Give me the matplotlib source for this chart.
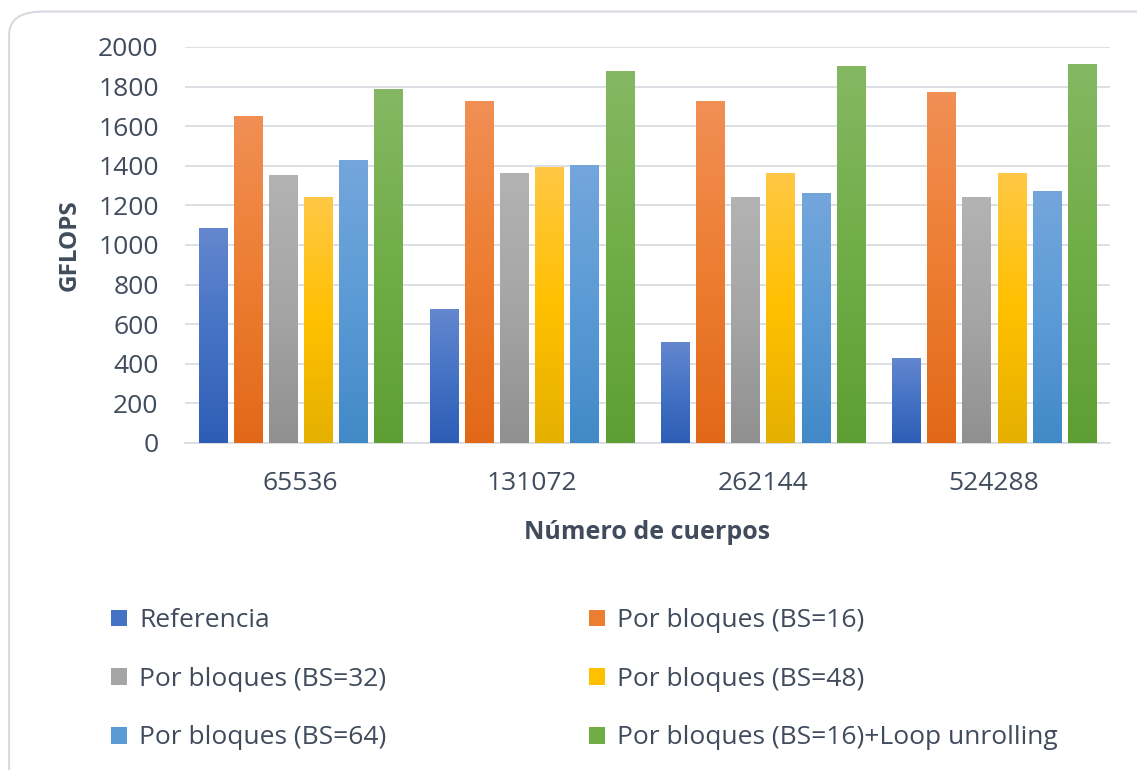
import matplotlib.pyplot as plt
import numpy as np
from matplotlib.colors import LinearSegmentedColormap
from matplotlib.patches import FancyBboxPatch, Patch

plt.rcParams["font.family"] = ["Open Sans", "DejaVu Sans"]

# data
bodies = ["65536", "131072", "262144", "524288"]
series = [
    "Referencia",
    "Por bloques (BS=16)",
    "Por bloques (BS=32)",
    "Por bloques (BS=48)",
    "Por bloques (BS=64)",
    "Por bloques (BS=16)+Loop unrolling",
]
referencia = [1085, 675, 510, 430]
bs16 = [1650, 1725, 1725, 1775]
bs32 = [1355, 1365, 1240, 1240]
bs48 = [1240, 1395, 1365, 1365]
bs64 = [1428, 1405, 1265, 1275]
bs16_unroll = [1790, 1880, 1905, 1915]
values = [referencia, bs16, bs32, bs48, bs64, bs16_unroll]

# (top, middle, bottom) colours of each bar gradient
gradients = [
    ("#6487cf", "#4472c4", "#2e5db6"),
    ("#f18f55", "#ed7d31", "#e26818"),
    ("#b3b3b3", "#a5a5a5", "#909090"),
    ("#ffc845", "#ffc000", "#e5b000"),
    ("#74a6dc", "#5b9bd5", "#4289c8"),
    ("#85b863", "#70ad47", "#5d9f33"),
]
text_color = "#404b5c"
grid_color = "#d9dde3"

fig = plt.figure(figsize=(11.37, 7.7), dpi=100)
ax = fig.add_axes([0.1627, 0.4247, 0.8133, 0.5143])

# rounded chart-area border
frame = FancyBboxPatch((0.008, -0.05), 1.2, 1.035, transform=fig.transFigure,
                       boxstyle="round,pad=0,rounding_size=0.03",
                       facecolor="white", edgecolor="#d6dae0", linewidth=1.5,
                       zorder=-10)
fig.patches.append(frame)

x = np.arange(len(bodies))
pitch = 0.152
width = 0.122
grad = np.linspace(0, 1, 256).reshape(-1, 1)

for i, (vals, cols) in enumerate(zip(values, gradients)):
    cmap = LinearSegmentedColormap.from_list(f"g{i}", [cols[2], cols[1], cols[0]])
    offs = x + (i - 2.5) * pitch
    bars = ax.bar(offs, vals, width=width, color=cols[1], zorder=2)
    for b in bars:
        bx, bw, bh = b.get_x(), b.get_width(), b.get_height()
        im = ax.imshow(grad, cmap=cmap, aspect="auto", origin="lower",
                       extent=(bx, bx + bw, 0, bh), zorder=3)
        im.set_clip_path(b)

ax.set_xlim(-0.5, 3.5)
ax.set_ylim(0, 2000)
ax.set_yticks(range(0, 2001, 200))
ax.set_xticks(x)
ax.set_xticklabels(bodies)
ax.yaxis.grid(True, color=grid_color, linewidth=1.3, zorder=0)
ax.set_axisbelow(True)
for s in ["top", "right", "left"]:
    ax.spines[s].set_visible(False)
ax.spines["bottom"].set_color(grid_color)
ax.spines["bottom"].set_linewidth(1.3)
ax.tick_params(length=0, labelsize=19, colors=text_color)
ax.tick_params(axis="x", pad=20.5)
ax.tick_params(axis="y", pad=19)

ax.set_ylabel("GFLOPS", fontsize=17.5, fontweight="bold", color=text_color,
              labelpad=12)
ax.set_xlabel("Número de cuerpos", fontsize=18, fontweight="bold",
              color=text_color, labelpad=17)

handles = [Patch(facecolor=g[1]) for g in gradients]
order = [0, 2, 4, 1, 3, 5]
fig.legend([handles[k] for k in order], [series[k] for k in order],
           ncol=2, loc="upper left", bbox_to_anchor=(0.0862, 0.227),
           frameon=False, fontsize=19, labelcolor=text_color, borderpad=0,
           handlelength=0.6, handleheight=0.6, handletextpad=0.45,
           columnspacing=7.7, labelspacing=1.27)

fig.savefig("out.png", dpi=100)
